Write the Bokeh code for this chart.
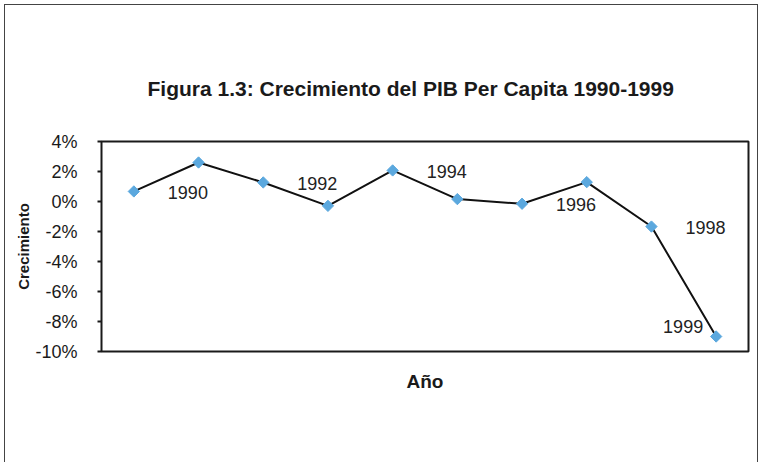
from bokeh.plotting import figure
from bokeh.models import Range1d, FixedTicker, ColumnDataSource
from bokeh.embed import file_html
from bokeh.resources import INLINE
from bokeh.core.properties import value

# ---- data ----
years = [1990, 1991, 1992, 1993, 1994, 1995, 1996, 1997, 1998, 1999]
growth = [0.67, 2.6, 1.27, -0.29, 2.07, 0.16, -0.15, 1.29, -1.67, -9.0]
right_label_years = [1990, 1992, 1994, 1996, 1998]
left_label_years = [1999]
y_ticks = [-10, -8, -6, -4, -2, 0, 2, 4]
y_tick_labels = ["-10%", "-8%", "-6%", "-4%", "-2%", "0%", "2%", "4%"]
title_text = "Figura 1.3: Crecimiento del PIB Per Capita 1990-1999"
x_title = "Año"
y_title = "Crecimiento"

FONT = "Liberation Sans"

xpos = [i + 0.5 for i in range(len(years))]
src = ColumnDataSource(dict(x=xpos, y=growth, year=[str(y) for y in years]))

p = figure(width=760, height=462, output_backend="svg", toolbar_location=None,
           x_range=Range1d(0, len(years)), y_range=Range1d(-10, 4),
           min_border_left=101, min_border_right=12, min_border_top=141,
           min_border_bottom=111, background_fill_color="white",
           border_fill_color="white", border_fill_alpha=0)

p.title.text = title_text
p.title.align = "left"
p.title.offset = 46
p.title.text_font = FONT
p.title.text_font_size = "21px"
p.title.text_font_style = "bold"
p.title.text_color = "#1a1a1a"
p.title.standoff = 83

p.grid.visible = False
p.outline_line_color = "#1a1a1a"
p.outline_line_width = 2

# x axis
xa = p.xaxis[0]
xa.ticker = FixedTicker(ticks=[])
xa.axis_line_color = None
xa.major_tick_line_color = None
xa.minor_tick_line_color = None
xa.axis_label = x_title
xa.axis_label_text_font = FONT
xa.axis_label_text_font_size = "19px"
xa.axis_label_text_font_style = "bold"
xa.axis_label_text_color = "#1a1a1a"
xa.axis_label_standoff = 19

# y axis
ya = p.yaxis[0]
ya.ticker = FixedTicker(ticks=y_ticks)
ya.major_label_overrides = {t: l for t, l in zip(y_ticks, y_tick_labels)}
ya.axis_line_color = None
ya.minor_tick_line_color = None
ya.major_tick_line_color = "#1a1a1a"
ya.major_tick_line_width = 2
ya.major_tick_out = 4
ya.major_tick_in = 0
ya.major_label_standoff = 20
ya.major_label_text_font = FONT
ya.major_label_text_font_size = "18px"
ya.major_label_text_color = "#1a1a1a"
ya.axis_label = y_title
ya.axis_label_text_font = FONT
ya.axis_label_text_font_size = "15px"
ya.axis_label_text_font_style = "bold"
ya.axis_label_text_color = "#1a1a1a"
ya.axis_label_standoff = 0

# line and markers
p.line("x", "y", source=src, line_color="#111111", line_width=2)
p.scatter("x", "y", source=src, marker="square", size=8, angle=45,
          angle_units="deg", fill_color="#5BA8DE", line_color="#5BA8DE")

# data labels
r_idx = [years.index(y) for y in right_label_years]
rsrc = ColumnDataSource(dict(x=[xpos[i] for i in r_idx], y=[growth[i] for i in r_idx],
                             t=[str(years[i]) for i in r_idx]))
p.text("x", "y", text="t", source=rsrc, x_offset=34, y_offset=1,
       text_align="left", text_baseline="middle", text_font=value(FONT),
       text_font_size="18px", text_color="#222222")

l_idx = [years.index(y) for y in left_label_years]
lsrc = ColumnDataSource(dict(x=[xpos[i] for i in l_idx], y=[growth[i] for i in l_idx],
                             t=[str(years[i]) for i in l_idx]))
p.text("x", "y", text="t", source=lsrc, x_offset=-13, y_offset=-10,
       text_align="right", text_baseline="middle", text_font=value(FONT),
       text_font_size="18px", text_color="#222222")

# outer frame lines (left, top, right) drawn as CSS background of the figure box
p.styles = {
    "background-color": "white",
    "background-image": ("linear-gradient(#444,#444), linear-gradient(#444,#444), "
                         "linear-gradient(#444,#444)"),
    "background-size": "1px 100%, 753px 1px, 1px 100%",
    "background-position": "4px 4px, 4px 4px, 757px 4px",
    "background-repeat": "no-repeat",
}

open("out.html", "w").write(file_html(p, INLINE))
